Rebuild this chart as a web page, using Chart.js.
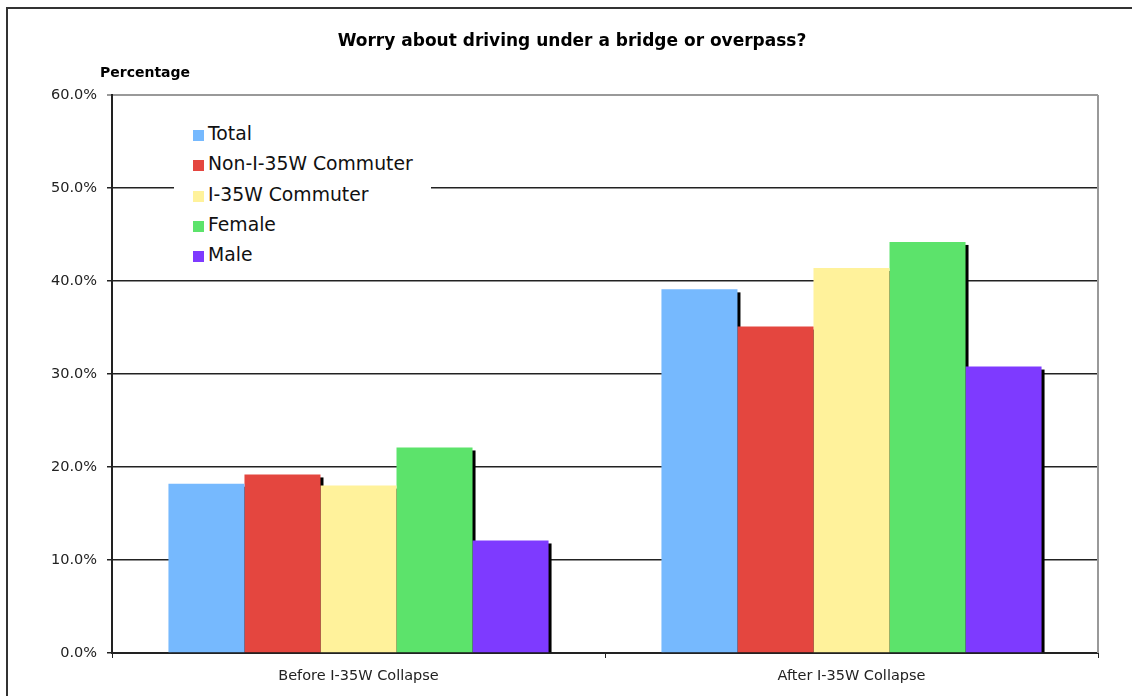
<!DOCTYPE html>
<html>
<head>
<meta charset="utf-8">
<script src="https://cdn.jsdelivr.net/npm/chart.js@4.4.0/dist/chart.umd.min.js"></script>
<style>
  html, body { margin: 0; padding: 0; background: #fff; overflow: hidden; }
  #wrap { position: relative; width: 1132px; height: 696px; }
  #frame { position: absolute; left: 6px; top: 7px; width: 1200px; height: 800px;
           border: 2px solid #333; pointer-events: none; }
  #legend { position: absolute; left: 174px; top: 113px; width: 257px; height: 162px;
            background: #fff; padding-top: 6px; box-sizing: border-box;
            font-family: "DejaVu Sans", Verdana, sans-serif; font-size: 18.8px; color: #111; }
  .row { height: 30.3px; line-height: 30.3px; padding-left: 19px; white-space: nowrap; }
  .box { display: inline-block; width: 11px; height: 11px; margin-right: 4px; vertical-align: -1px; }
</style>
</head>
<body>
<div id="wrap">
  <canvas id="myChart" width="1132" height="696"></canvas>
  <div id="frame"></div>
  <div id="legend"></div>
</div>
<script>
const categories = ['Before I-35W Collapse', 'After I-35W Collapse'];
const seriesNames = ['Total', 'Non-I-35W Commuter', 'I-35W Commuter', 'Female', 'Male'];
const total = [18.2, 39.1];
const nonCommuter = [19.2, 35.1];
const commuter = [18.0, 41.4];
const female = [22.1, 44.2];
const male = [12.1, 30.8];
const colors = ['#76b9fe', '#e4463f', '#fff29b', '#5ce36b', '#7e3aff'];
const yTicks = [0, 10, 20, 30, 40, 50, 60];

const seriesValues = [total, nonCommuter, commuter, female, male];

// black drop shadow behind each bar, drawn before the bars themselves
const shadowPlugin = {
    id: 'barShadow',
    beforeDatasetsDraw(chart) {
        const ctx = chart.ctx;
        ctx.save();
        ctx.fillStyle = '#000';
        chart.data.datasets.forEach((ds, i) => {
            chart.getDatasetMeta(i).data.forEach(bar => {
                const left = bar.x - bar.width / 2;
                ctx.fillRect(left + 3, bar.y + 3, bar.width, bar.base - bar.y - 3);
            });
        });
        ctx.restore();
    }
};

const textPlugin = {
    id: 'texts',
    afterDraw(chart) {
        const ctx = chart.ctx;
        const area = chart.chartArea;
        ctx.save();
        // grey plot border on the right
        ctx.strokeStyle = '#999';
        ctx.lineWidth = 2;
        ctx.beginPath();
        ctx.moveTo(area.right, area.top);
        ctx.lineTo(area.right, area.bottom);
        ctx.stroke();

        ctx.fillStyle = '#000';
        ctx.font = 'bold 17px "DejaVu Sans"';
        ctx.textAlign = 'center';
        ctx.textBaseline = 'middle';
        ctx.fillText('Worry about driving under a bridge or overpass?', 572, 42);
        ctx.font = 'bold 14px "DejaVu Sans"';
        ctx.textAlign = 'left';
        ctx.fillText('Percentage', 100, 73);
        ctx.restore();
    }
};

const ctx = document.getElementById('myChart').getContext('2d');
new Chart(ctx, {
    type: 'bar',
    data: {
        labels: categories,
        datasets: seriesNames.map((name, i) => ({
            label: name,
            data: seriesValues[i],
            backgroundColor: colors[i],
            borderWidth: 0,
            barPercentage: 1.0,
            categoryPercentage: 0.771
        }))
    },
    options: {
        responsive: false,
        animation: false,
        layout: { padding: { left: 0, top: 95, right: 34, bottom: 0 } },
        plugins: {
            legend: { display: false },
            title: { display: false },
            tooltip: { enabled: false }
        },
        scales: {
            x: {
                afterFit(scale) { scale.height = 43; },
                grid: { drawOnChartArea: false, color: '#222', tickLength: 5, lineWidth: 1 },
                border: { color: '#222', width: 2 },
                ticks: {
                    color: '#222',
                    padding: 10,
                    font: { family: 'DejaVu Sans', size: 14.5 }
                }
            },
            y: {
                min: 0,
                max: 60,
                afterFit(scale) { scale.width = 112; },
                afterBuildTicks(scale) { scale.ticks = yTicks.map(v => ({ value: v })); },
                grid: {
                    color: c => (c.tick && c.tick.value === 60) ? '#999' : '#222',
                    lineWidth: c => (c.tick && c.tick.value === 60) ? 2 : 1.5,
                    tickLength: 5
                },
                border: { color: '#222', width: 2 },
                ticks: {
                    color: '#222',
                    padding: 10,
                    font: { family: 'DejaVu Sans', size: 14.5 },
                    callback: v => v.toFixed(1) + '%'
                }
            }
        }
    },
    plugins: [shadowPlugin, textPlugin]
});

// legend built from the same series arrays
const legend = document.getElementById('legend');
seriesNames.forEach((name, i) => {
    const row = document.createElement('div');
    row.className = 'row';
    row.innerHTML = '<span class="box" style="background:' + colors[i] + '"></span>' + name;
    legend.appendChild(row);
});
</script>
</body>
</html>
